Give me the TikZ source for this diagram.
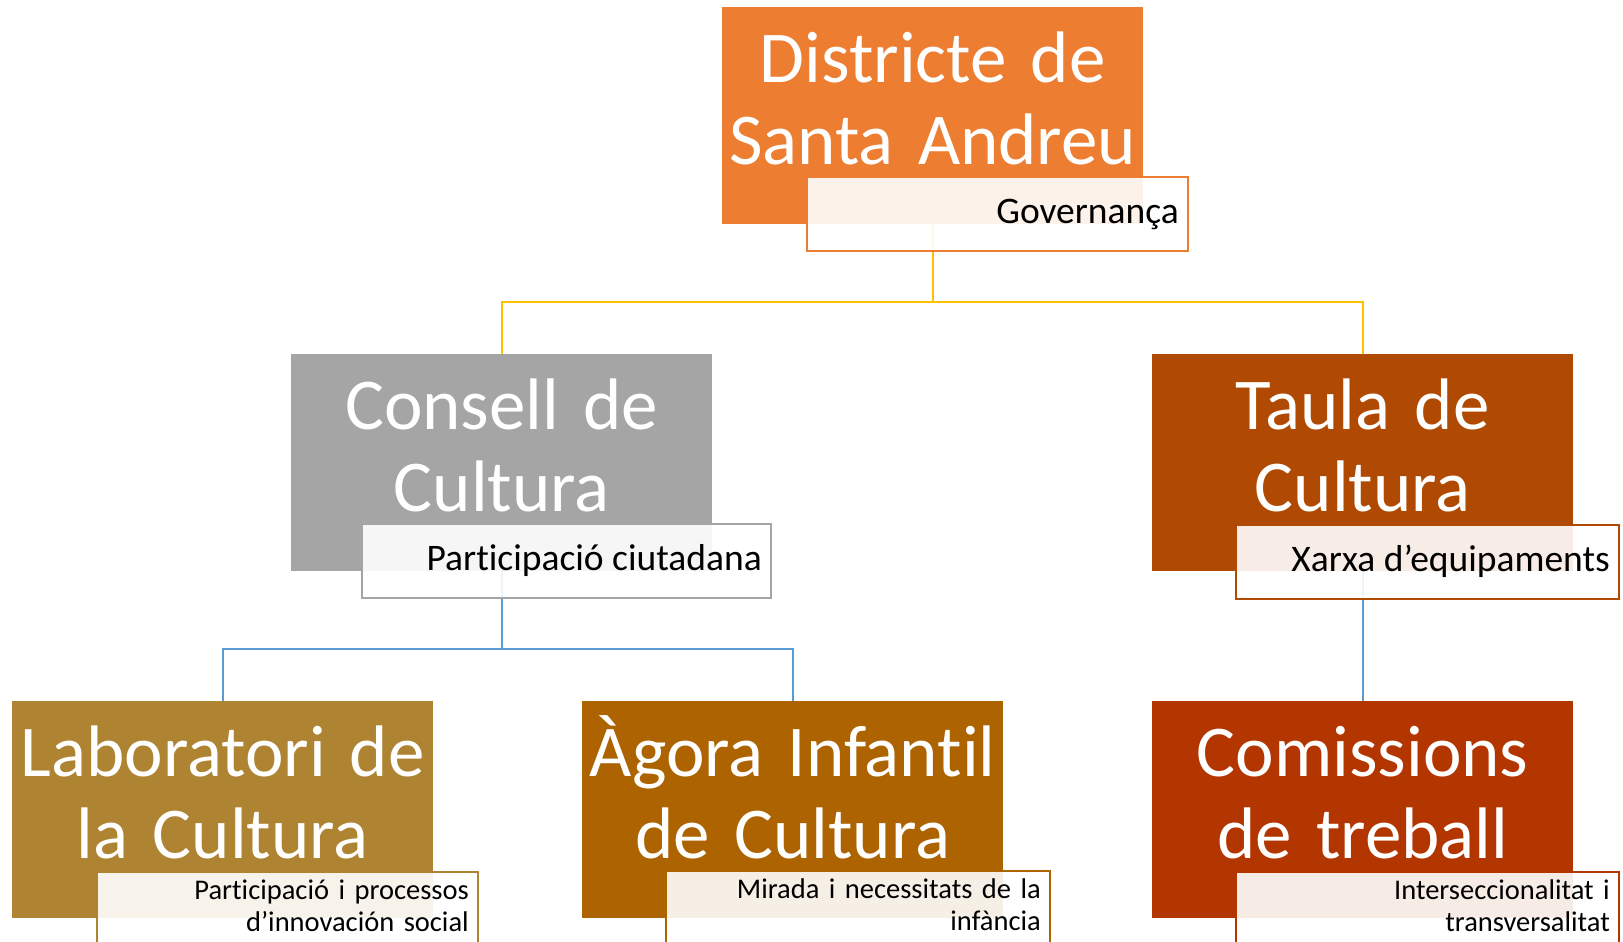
\documentclass[tikz,border=0pt]{standalone}
\usepackage{fontspec}
\setmainfont{Carlito}[Ligatures=CommonOff]
\usetikzlibrary{backgrounds}
\definecolor{orangeA}{RGB}{237,125,49}
\definecolor{grayA}{RGB}{165,165,165}
\definecolor{rustA}{RGB}{176,74,2}
\definecolor{goldA}{RGB}{174,131,50}
\definecolor{amberA}{RGB}{173,99,0}
\definecolor{redA}{RGB}{179,54,0}
\definecolor{lineY}{RGB}{255,192,0}
\definecolor{lineB}{RGB}{91,155,213}
\tikzset{
	unitbox/.style={rectangle, anchor=north west, inner sep=0, minimum width=421pt, minimum height=217pt},
	rolebox/.style={rectangle, anchor=north west, inner sep=0, minimum height=74pt, fill=white, fill opacity=0.9, line width=2pt},
	unittext/.style={text=white, text width=421pt, align=center, inner sep=0, anchor=base, font=\fontsize{73}{82}\selectfont},
	roletext/.style={text=black, inner sep=0, anchor=base east, font=\fontsize{37.5}{40}\selectfont},
	smallrole/.style={text width=372pt, align=right, font=\fontsize{28.5}{32}\selectfont},
	link/.style={line width=2pt}
}

\begin{document}
\begin{tikzpicture}[x=1pt,y=-1pt]
		%%%%% START %%%%%
		\useasboundingbox (0,0) rectangle (1623,942);
		
		% unit boxes
		\node[unitbox, fill=orangeA] (dist) at (722,7) {};
		\node[unitbox, fill=grayA] (consell) at (291,354) {};
		\node[unitbox, fill=rustA] (taula) at (1152,354) {};
		\node[unitbox, fill=goldA] (lab) at (12,701) {};
		\node[unitbox, fill=amberA] (agora) at (582,701) {};
		\node[unitbox, fill=redA] (comis) at (1152,701) {};
		
		% role boxes
		\node[rolebox, draw=orangeA, minimum width=381pt] (dist-r) at (806,176) {};
		\node[rolebox, draw=grayA, minimum width=409pt] (consell-r) at (361,523) {};
		\node[rolebox, draw=rustA, minimum width=383pt] (taula-r) at (1235,524) {};
		\node[rolebox, draw=goldA, minimum width=381pt] (lab-r) at (96,871) {};
		\node[rolebox, draw=amberA, minimum width=384pt] (agora-r) at (665,870) {};
		\node[rolebox, draw=redA, minimum width=383pt] (comis-r) at (1235,871) {};
		
		% texts
		\node[unittext] (dist-t) at ([yshift=-75pt]dist.north) {Districte de\\Santa Andreu};
		\node[unittext] (consell-t) at ([yshift=-75pt]consell.north) {Consell de\\Cultura};
		\node[unittext] (taula-t) at ([yshift=-75pt]taula.north) {Taula de\\Cultura};
		\node[unittext] (lab-t) at ([yshift=-75pt]lab.north) {Laboratori de\\la Cultura};
		\node[unittext] (agora-t) at ([yshift=-75pt]agora.north) {Àgora Infantil\\de Cultura};
		\node[unittext] (comis-t) at ([yshift=-75pt]comis.north) {Comissions\\de treball};
		
		\node[roletext] (dist-rt) at ([xshift=-10pt,yshift=-47pt]dist-r.north east) {Governança};
		\node[roletext] (consell-rt) at ([xshift=-10pt,yshift=-47pt]consell-r.north east) {Participació ciutadana};
		\node[roletext] (taula-rt) at ([xshift=-10pt,yshift=-47pt]taula-r.north east) {Xarxa d’equipaments};
		\node[roletext, smallrole] (lab-rt) at ([xshift=-10pt,yshift=-28pt]lab-r.north east) {Participació i processos\\d’innovación social};
		\node[roletext, smallrole] (agora-rt) at ([xshift=-10pt,yshift=-28pt]agora-r.north east) {Mirada i necessitats de la\\infància};
		\node[roletext, smallrole] (comis-rt) at ([xshift=-10pt,yshift=-28pt]comis-r.north east) {Interseccionalitat i\\transversalitat};
		
		% connectors
		\begin{scope}[on background layer]
			\coordinate (top-j) at (dist.south |- 0,302);
			\coordinate (mid-j) at (consell.south |- 0,649);
			\draw[link, lineY] (dist.south) -- (top-j);
			\draw[link, lineY] (consell.north) |- (top-j) -| (taula.north);
			\draw[link, lineB] (consell.south) -- (mid-j);
			\draw[link, lineB] (lab.north) |- (mid-j) -| (agora.north);
			\draw[link, lineB] (taula.south) -- (comis.north);
		\end{scope}
		%%%%% END %%%%%
\end{tikzpicture}
\end{document}
